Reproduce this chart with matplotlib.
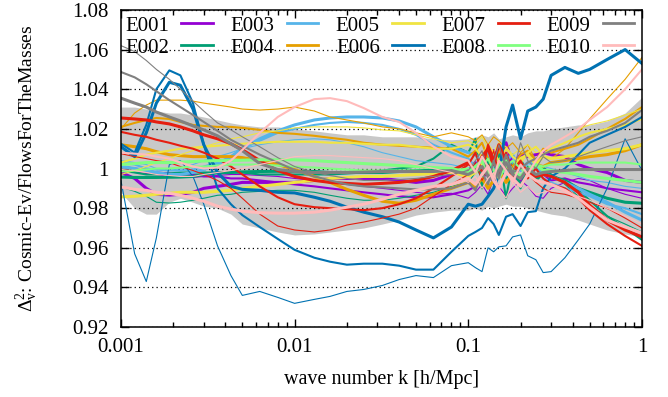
import matplotlib
matplotlib.use("Agg")
import matplotlib.pyplot as plt
from matplotlib.lines import Line2D
from matplotlib.ticker import FuncFormatter, LogLocator, NullFormatter

plt.rcParams["font.family"] = ["Liberation Serif", "DejaVu Serif"]
plt.rcParams["font.size"] = 15
plt.rcParams["mathtext.fontset"] = "custom"
plt.rcParams["mathtext.rm"] = "Liberation Serif"
plt.rcParams["mathtext.it"] = "Liberation Serif:italic"

# wave numbers [h/Mpc]
k = [0.001, 0.0012, 0.0014, 0.0016, 0.0019, 0.0022, 0.0026, 0.003, 0.0036, 0.0043,
     0.005, 0.0063, 0.008, 0.01, 0.013, 0.016, 0.02, 0.025, 0.032, 0.04, 0.05, 0.063, 0.08,
     0.1, 0.11, 0.12, 0.13, 0.14, 0.15, 0.165, 0.18, 0.2, 0.22, 0.245, 0.27, 0.3,
     0.36, 0.43, 0.5, 0.63, 0.8, 1.0]

# grey band
band_hi = [1.031, 1.031, 1.030, 1.029, 1.028, 1.028, 1.027, 1.026, 1.0245, 1.023, 1.022, 1.021,
           1.021, 1.020, 1.019, 1.018, 1.017, 1.017, 1.016, 1.016, 1.016, 1.015, 1.0145,
           1.015, 1.016, 1.017, 1.016, 1.018, 1.015, 1.016, 1.017, 1.016, 1.018, 1.019, 1.019, 1.020,
           1.021, 1.022, 1.022, 1.024, 1.028, 1.036]
band_lo = [0.988, 0.980, 0.977, 0.977, 0.983, 0.985, 0.983, 0.981, 0.980, 0.977, 0.972, 0.970,
           0.968, 0.9665, 0.967, 0.968, 0.969, 0.970, 0.972, 0.974, 0.9765, 0.978, 0.979,
           0.979, 0.980, 0.979, 0.981, 0.980, 0.981, 0.982, 0.981, 0.981, 0.980, 0.979, 0.978, 0.977,
           0.976, 0.974, 0.972, 0.969, 0.967, 0.9655]

# E001
e001_a = [0.998, 0.995, 0.990, 0.987, 0.9866, 0.987, 0.988, 0.990, 0.991, 0.992, 0.993, 0.993,
          0.993, 0.993, 0.994, 0.995, 0.995, 0.995, 0.995, 0.994, 0.993, 0.994, 0.997,
          0.999, 1.003, 0.998, 1.006, 1.009, 1.003, 1.013, 1.002, 1.007, 1.006, 1.007, 1.008, 1.007,
          1.006, 1.002, 1.000, 0.998, 0.994, 0.993]
e001_b = [1.001, 1.000, 0.999, 0.998, 0.9975, 0.997, 0.997, 0.996, 0.996, 0.995, 0.995, 0.994,
          0.993, 0.992, 0.991, 0.990, 0.989, 0.988, 0.987, 0.986, 0.9855, 0.9855, 0.987,
          0.989, 0.991, 0.995, 0.998, 0.992, 1.004, 0.999, 0.995, 0.993, 0.999, 0.996, 0.997, 0.994,
          0.995, 0.993, 0.992, 0.990, 0.989, 0.988]
e001_c = [0.9985, 0.998, 0.9975, 0.997, 0.996, 0.9955, 0.9955, 0.996, 0.9965, 0.997, 0.997, 0.9965,
          0.996, 0.995, 0.994, 0.993, 0.992, 0.991, 0.990, 0.989, 0.988, 0.987, 0.9875,
          0.985, 0.988, 0.992, 0.987, 0.995, 0.991, 0.986, 0.990, 0.994, 0.991, 0.986, 0.985, 0.990,
          0.993, 0.995, 0.994, 0.990, 0.987, 0.985]

# E002
e002_a = [0.9957, 0.9955, 0.9955, 0.9955, 0.9956, 0.9957, 0.996, 0.997, 0.9978, 0.998, 0.9983, 0.9985,
          0.9986, 0.9986, 0.9985, 0.998, 0.998, 0.998, 0.998, 0.9985, 0.999, 0.999, 0.999,
          0.997, 1.002, 0.996, 1.004, 0.993, 1.000, 0.995, 1.002, 0.991, 0.998, 0.994, 0.998, 0.996,
          0.994, 0.990, 0.988, 0.985, 0.983, 0.9825]
e002_b = [0.999, 0.998, 0.997, 0.997, 0.9975, 0.998, 0.998, 0.998, 0.998, 0.998, 0.998, 0.997,
          0.997, 0.997, 0.997, 0.997, 0.9975, 0.998, 0.999, 1.000, 1.001, 1.005, 1.012,
          1.008, 1.015, 0.990, 1.010, 0.996, 1.008, 0.985, 1.003, 0.990, 1.001, 0.995, 1.000, 0.997,
          0.993, 0.989, 0.984, 0.976, 0.970, 0.964]
e002_c = [0.9907, 0.9885, 0.986, 0.983, 0.9826, 0.983, 0.984, 0.985, 0.9865, 0.987, 0.988, 0.9885,
          0.989, 0.989, 0.988, 0.9865, 0.985, 0.984, 0.984, 0.985, 0.9865, 0.988, 0.991,
          0.993, 0.998, 1.007, 1.002, 0.999, 1.008, 1.000, 0.997, 1.005, 0.999, 0.996, 1.001, 0.997,
          0.992, 0.986, 0.981, 0.976, 0.972, 0.968]

# E003
e003_a = [1.001, 1.000, 0.999, 0.998, 0.997, 0.997, 0.998, 0.9995, 1.002, 1.006, 1.010, 1.015,
          1.019, 1.022, 1.0245, 1.0255, 1.026, 1.026, 1.0255, 1.024, 1.021, 1.016, 1.011,
          1.008, 1.007, 1.003, 1.009, 1.006, 1.001, 1.004, 1.007, 0.999, 1.003, 1.002, 0.997, 0.996,
          0.993, 0.990, 0.987, 0.983, 0.978, 0.974]
e003_b = [1.003, 1.002, 1.000, 0.9995, 0.999, 0.999, 0.9995, 1.001, 1.003, 1.006, 1.010, 1.014,
          1.018, 1.020, 1.022, 1.023, 1.0235, 1.023, 1.022, 1.020, 1.017, 1.012, 1.008,
          1.005, 1.001, 1.003, 1.008, 0.999, 1.002, 1.006, 0.997, 1.001, 0.998, 1.000, 0.995, 0.993,
          0.990, 0.988, 0.986, 0.982, 0.980, 0.977]
e003_c = [1.004, 1.003, 1.002, 1.000, 0.999, 1.000, 1.002, 1.004, 1.006, 1.008, 1.010, 1.012,
          1.0135, 1.0145, 1.015, 1.0145, 1.013, 1.011, 1.008, 1.006, 1.004, 1.003, 1.002,
          1.000, 1.002, 1.005, 0.997, 1.001, 1.004, 0.996, 1.003, 1.001, 0.998, 1.002, 1.001, 1.000,
          0.998, 0.996, 0.994, 0.993, 0.991, 0.990]

# E004
e004_a = [1.012, 1.011, 1.010, 1.0085, 1.007, 1.0065, 1.006, 1.006, 1.006, 1.006, 1.0055, 1.004,
          1.002, 0.9995, 0.996, 0.993, 0.9895, 0.9865, 0.9835, 0.9825, 0.984, 0.987, 0.990,
          0.993, 0.991, 0.995, 0.990, 0.994, 0.999, 0.993, 0.997, 1.003, 0.998, 1.002, 1.001, 1.003,
          1.004, 1.005, 1.006, 1.007, 1.009, 1.012]
e004_b = [1.021, 1.023, 1.0245, 1.0255, 1.025, 1.0235, 1.022, 1.0215, 1.021, 1.021, 1.0205, 1.0195,
          1.018, 1.0175, 1.0165, 1.0155, 1.0145, 1.013, 1.012, 1.0115, 1.011, 1.0105, 1.010,
          1.006, 1.009, 1.013, 1.005, 1.003, 1.009, 1.004, 1.001, 1.007, 1.009, 1.004, 1.010, 1.008,
          1.010, 1.012, 1.015, 1.020, 1.025, 1.031]
e004_c = [1.020, 1.028, 1.032, 1.0345, 1.0345, 1.0345, 1.034, 1.033, 1.032, 1.031, 1.030, 1.0295,
          1.030, 1.031, 1.029, 1.026, 1.0245, 1.023, 1.021, 1.020, 1.018, 1.016, 1.018,
          1.016, 1.014, 1.017, 1.012, 1.016, 1.014, 1.010, 1.013, 1.008, 1.012, 1.004, 1.006, 1.005,
          1.010, 1.018, 1.025, 1.035, 1.045, 1.056]

# E005
e005_a = [0.9857, 0.986, 0.9865, 0.987, 0.9875, 0.988, 0.988, 0.988, 0.9885, 0.989, 0.990, 0.991,
          0.992, 0.993, 0.994, 0.995, 0.9955, 0.996, 0.996, 0.9965, 0.997, 0.9975, 0.998,
          0.996, 0.998, 1.002, 0.997, 0.995, 1.004, 1.001, 0.999, 1.005, 1.007, 1.002, 1.006, 1.005,
          1.006, 1.007, 1.008, 1.009, 1.010, 1.012]
e005_b = [1.003, 1.005, 1.007, 1.008, 1.009, 1.010, 1.0105, 1.011, 1.0115, 1.012, 1.0125, 1.013,
          1.0135, 1.0135, 1.0135, 1.013, 1.013, 1.0125, 1.012, 1.012, 1.011, 1.010, 1.010,
          1.012, 1.010, 1.006, 1.012, 1.008, 1.004, 1.010, 1.006, 1.003, 1.008, 1.011, 1.007, 1.010,
          1.013, 1.016, 1.018, 1.020, 1.022, 1.025]
e005_c = [0.997, 0.999, 1.001, 1.003, 1.005, 1.007, 1.009, 1.011, 1.013, 1.015, 1.016, 1.018,
          1.019, 1.0205, 1.021, 1.021, 1.021, 1.0205, 1.0195, 1.019, 1.017, 1.015, 1.013,
          1.014, 1.012, 1.016, 1.010, 1.008, 1.013, 1.011, 1.007, 1.010, 1.012, 1.008, 1.009, 1.012,
          1.016, 1.020, 1.022, 1.024, 1.027, 1.030]

# E006
e006_a = [1.011, 1.006, 1.018, 1.033, 1.0435, 1.042, 1.030, 1.012, 0.998, 0.991, 0.9895, 0.989,
          0.988, 0.9877, 0.9855, 0.9835, 0.9805, 0.978, 0.9757, 0.973, 0.969, 0.965, 0.9705,
          0.982, 0.981, 0.982, 0.986, 0.990, 0.997, 1.021, 1.032, 1.015, 1.029, 1.031, 1.035, 1.047,
          1.051, 1.048, 1.050, 1.055, 1.060, 1.053]
e006_b = [1.0125, 1.008, 1.022, 1.040, 1.0495, 1.047, 1.033, 1.012, 0.990, 0.982, 0.9765, 0.9705,
          0.9645, 0.959, 0.955, 0.953, 0.9515, 0.952, 0.952, 0.951, 0.949, 0.949, 0.958,
          0.966, 0.968, 0.970, 0.975, 0.972, 0.9665, 0.9757, 0.977, 0.971, 0.978, 0.9785, 0.990, 0.996,
          1.000, 1.007, 1.013, 1.017, 1.021, 1.026]
e006_c = [0.994, 0.957, 0.943, 0.965, 1.002, 1.004, 0.996, 0.982, 0.961, 0.946, 0.936, 0.938,
          0.935, 0.932, 0.934, 0.9355, 0.938, 0.939, 0.941, 0.944, 0.946, 0.945, 0.951,
          0.9525, 0.950, 0.948, 0.960, 0.958, 0.9605, 0.961, 0.9655, 0.9665, 0.956, 0.954, 0.9475, 0.948,
          0.955, 0.964, 0.972, 0.990, 1.015, 0.999]

# E007
e007_a = [1.0255, 1.025, 1.0245, 1.0235, 1.0225, 1.021, 1.019, 1.017, 1.015, 1.0125, 1.0095, 1.004,
          0.999, 0.996, 0.994, 0.993, 0.9925, 0.992, 0.9925, 0.993, 0.994, 0.996, 0.999,
          1.003, 0.999, 1.006, 1.010, 1.002, 1.012, 1.004, 0.996, 1.003, 0.998, 0.996, 0.997, 0.996,
          0.993, 0.988, 0.9815, 0.974, 0.969, 0.9655]
e007_b = [1.0185, 1.017, 1.016, 1.0145, 1.013, 1.0115, 1.010, 1.008, 1.005, 1.001, 0.997, 0.991,
          0.9855, 0.982, 0.9805, 0.980, 0.9795, 0.979, 0.980, 0.982, 0.985, 0.990, 0.996,
          1.002, 1.008, 0.998, 1.012, 1.005, 0.995, 1.008, 0.999, 1.004, 0.995, 1.000, 0.995, 0.992,
          0.990, 0.985, 0.979, 0.972, 0.966, 0.961]
e007_c = [1.0075, 1.006, 1.005, 1.004, 1.003, 1.001, 0.999, 0.997, 0.994, 0.990, 0.985, 0.977,
          0.971, 0.969, 0.968, 0.969, 0.9715, 0.973, 0.975, 0.977, 0.980, 0.986, 0.992,
          0.997, 1.003, 0.994, 1.000, 1.009, 0.998, 1.005, 0.993, 1.001, 0.997, 0.993, 0.990, 0.988,
          0.987, 0.985, 0.983, 0.980, 0.975, 0.970]

# E008
e008_a = [1.002, 1.0025, 1.003, 1.003, 1.003, 1.0032, 1.0035, 1.0038, 1.004, 1.004, 1.0042, 1.0044,
          1.0044, 1.0044, 1.004, 1.0035, 1.003, 1.0025, 1.002, 1.0015, 1.001, 1.0005, 1.000,
          0.998, 1.001, 1.004, 0.998, 0.996, 1.002, 1.004, 0.999, 0.996, 1.000, 1.002, 0.999, 0.999,
          0.998, 0.997, 0.996, 0.995, 0.994, 0.993]
e008_b = [0.9985, 0.999, 0.9995, 1.000, 1.000, 1.0005, 1.001, 1.001, 1.0015, 1.002, 1.002, 1.002,
          1.0015, 1.001, 1.0005, 1.000, 0.9995, 0.999, 0.999, 0.999, 0.999, 0.9985, 0.999,
          1.000, 0.998, 1.001, 1.005, 0.999, 0.995, 1.001, 1.004, 1.000, 0.997, 1.002, 1.001, 1.002,
          1.002, 1.003, 1.003, 1.003, 1.003, 1.002]

# E009
e009_a = [1.0355, 1.033, 1.031, 1.0285, 1.026, 1.024, 1.0215, 1.0195, 1.0165, 1.0125, 1.009, 1.0025,
          0.9995, 0.9985, 0.998, 0.998, 0.998, 0.9982, 0.9985, 0.9985, 0.9985, 0.9985, 0.999,
          0.997, 0.999, 1.001, 0.996, 0.994, 0.999, 1.003, 0.997, 0.995, 1.000, 0.997, 0.998, 0.9985,
          0.999, 0.9995, 0.9995, 0.9995, 0.9995, 0.9995]
e009_b = [1.0487, 1.046, 1.0425, 1.039, 1.0345, 1.031, 1.027, 1.0235, 1.019, 1.0145, 1.0115, 1.007,
          1.003, 0.9993, 0.996, 0.994, 0.992, 0.991, 0.9905, 0.990, 0.9895, 0.9895, 0.990,
          0.993, 0.989, 0.998, 0.992, 1.004, 0.995, 1.007, 0.998, 1.000, 1.003, 1.005, 1.007, 1.009,
          1.011, 1.013, 1.016, 1.019, 1.023, 1.0295]
e009_c = [1.062, 1.059, 1.0545, 1.050, 1.045, 1.040, 1.034, 1.029, 1.023, 1.0195, 1.016, 1.011,
          1.0055, 1.001, 0.998, 0.9965, 0.995, 0.994, 0.994, 0.9945, 0.995, 0.996, 0.997,
          0.999, 1.004, 1.009, 0.996, 1.003, 1.012, 1.000, 0.997, 1.013, 1.004, 1.000, 1.006, 1.003,
          1.004, 1.006, 1.008, 1.011, 1.014, 1.016]

# E010
e010_a = [0.9907, 0.9895, 0.989, 0.988, 0.9875, 0.9865, 0.985, 0.9835, 0.981, 0.9795, 0.9785, 0.9777,
          0.9775, 0.9775, 0.978, 0.979, 0.9805, 0.982, 0.9845, 0.987, 0.989, 0.991, 0.992,
          0.995, 0.992, 0.997, 1.001, 0.994, 0.990, 0.998, 0.995, 0.991, 0.997, 0.994, 0.993, 0.992,
          0.989, 0.985, 0.9805, 0.974, 0.9705, 0.9675]
e010_b = [1.008, 1.0075, 1.007, 1.006, 1.005, 1.003, 1.001, 1.000, 1.0005, 1.004, 1.0094, 1.018,
          1.026, 1.031, 1.035, 1.0355, 1.034, 1.0305, 1.026, 1.0235, 1.018, 1.011, 1.006,
          1.004, 0.998, 1.006, 1.001, 0.995, 1.004, 0.999, 0.993, 1.002, 0.997, 1.004, 1.009, 1.012,
          1.016, 1.020, 1.0245, 1.031, 1.040, 1.050]
e010_c = [0.9995, 0.999, 0.998, 0.997, 0.9965, 0.996, 0.996, 0.997, 0.998, 0.999, 1.000, 1.002,
          1.004, 1.006, 1.0065, 1.0065, 1.006, 1.0055, 1.005, 1.004, 1.002, 1.000, 0.998,
          0.993, 0.996, 0.990, 0.995, 0.998, 0.990, 0.985, 0.993, 0.988, 0.991, 0.987, 0.988, 0.989,
          0.988, 0.986, 0.984, 0.980, 0.976, 0.972]

names = ["E001", "E002", "E003", "E004", "E005", "E006", "E007", "E008", "E009", "E010"]
colors = ["#9400d3", "#009e73", "#56b4e9", "#e69f00", "#f0e442",
          "#0072b2", "#e51e10", "#80ff80", "#808080", "#ffbbbb"]
curves = [
    [e001_a, e001_b, e001_c],
    [e002_a, e002_b, e002_c],
    [e003_a, e003_b, e003_c],
    [e004_a, e004_b, e004_c],
    [e005_a, e005_b, e005_c],
    [e006_a, e006_b, e006_c],
    [e007_a, e007_b, e007_c],
    [e008_a, e008_b],
    [e009_a, e009_b, e009_c],
    [e010_a, e010_b, e010_c],
]
widths = [2.2, 1.5, 0.8]

fig = plt.figure(figsize=(6.68, 3.97), dpi=100)
ax = fig.add_axes([0.181, 0.176, 0.78, 0.799])

ax.fill_between(k, band_lo, band_hi, color="#c8c8c8", lw=0, zorder=0.4)

for color, lines in zip(colors, curves):
    for vals, lw in zip(lines, widths):
        ax.plot(k, vals, color=color, lw=lw)

ax.set_xscale("log")
ax.set_xlim(0.001, 1)
ax.set_ylim(0.92, 1.08)
ax.set_xticks([0.001, 0.01, 0.1, 1])
ax.xaxis.set_major_formatter(FuncFormatter(lambda v, p: "%g" % v))
ax.xaxis.set_minor_locator(LogLocator(base=10, subs=range(2, 10)))
ax.xaxis.set_minor_formatter(NullFormatter())
ax.set_yticks([0.92, 0.94, 0.96, 0.98, 1.0, 1.02, 1.04, 1.06, 1.08])
ax.yaxis.set_major_formatter(FuncFormatter(lambda v, p: "%g" % round(v, 2)))

ax.tick_params(which="both", direction="in", top=True, right=True, width=1)
ax.tick_params(which="major", length=6)
ax.tick_params(which="minor", length=3.5)
ax.tick_params(axis="y", pad=9)
ax.tick_params(axis="x", pad=8)

ax.set_axisbelow(True)
ax.yaxis.grid(True, color="black", linestyle=(0, (1, 2.5)), lw=0.9)
for s in ax.spines.values():
    s.set_linewidth(1.1)

ax.set_xlabel("wave number k [h/Mpc]", fontsize=14.5)
ax.xaxis.set_label_coords(0.5, -0.135)
ax.set_ylabel(r"$\Delta^2_{\rm v}$: Cosmic-Ev/FlowsForTheMasses", fontsize=14)
ax.yaxis.set_label_coords(-0.155, 0.5)

handles = [Line2D([], [], color=c, lw=2) for c in colors]
fig.legend(handles, names, ncol=5, loc="upper left", bbox_to_anchor=(125 / 668, 1 - 16 / 397),
           frameon=False, markerfirst=False, handlelength=1.5, handletextpad=0.6,
           columnspacing=0.85, labelspacing=0.12, borderpad=0, borderaxespad=0, fontsize=15)

fig.savefig("out.png", dpi=100)
plt.close(fig)
